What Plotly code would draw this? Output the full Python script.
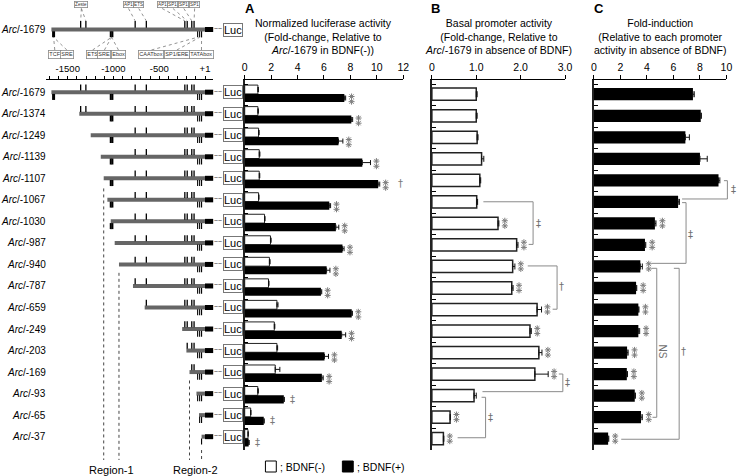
import plotly.graph_objects as go

# ---------------- data ----------------
constructs = [-1679, -1374, -1249, -1139, -1107, -1067, -1030, -987, -940,
              -787, -659, -249, -203, -169, -93, -65, -37]
a_bdnf_neg = [1.00, 1.00, 1.05, 1.10, 1.10, 1.05, 1.50, 1.95, 1.87, 1.80,
              2.44, 2.24, 2.44, 2.31, 0.99, 0.45, 0.25]
a_bdnf_neg_err = [0.03, 0.03, 0.04, 0.05, 0.04, 0.03, 0.04, 0.05, 0.05, 0.04,
                  0.08, 0.04, 0.05, 0.35, 0.04, 0.02, 0.02]
a_bdnf_pos = [7.54, 8.07, 7.10, 8.90, 10.10, 6.40, 6.90, 7.40, 6.20, 5.77,
              8.10, 7.34, 6.04, 5.84, 2.96, 1.44, 0.30]
a_bdnf_pos_err = [0.10, 0.10, 0.33, 0.62, 0.12, 0.10, 0.22, 0.12, 0.25, 0.06,
                  0.05, 0.30, 0.30, 0.10, 0.04, 0.04, 0.04]
b_basal = [1.00, 1.00, 1.02, 1.12, 1.08, 1.01, 1.49, 1.91, 1.82, 1.80,
           2.37, 2.21, 2.41, 2.32, 0.95, 0.41, 0.26]
b_basal_err = [0.02, 0.02, 0.02, 0.05, 0.02, 0.02, 0.02, 0.03, 0.05, 0.03,
               0.10, 0.03, 0.07, 0.30, 0.05, 0.01, 0.01]
c_fold = [7.47, 8.06, 6.90, 8.00, 9.40, 6.35, 4.60, 3.85, 3.50, 3.18,
          3.35, 3.35, 2.50, 2.48, 3.08, 3.55, 1.07]
c_fold_err = [0.10, 0.05, 0.30, 0.55, 0.10, 0.10, 0.08, 0.06, 0.15, 0.05,
              0.05, 0.10, 0.08, 0.05, 0.05, 0.10, 0.05]

a_sig = ["**"] * 14 + ["‡"] * 3
a_extra = {4: "†"}
b_sig = [""] * 6 + ["**"] * 8 + ["", "**", "**"]
c_sig = [""] * 6 + ["**"] * 11

a_ticks = [0, 2, 4, 6, 8, 10, 12]
b_ticks = [0, 1, 2, 3]
b_ticktext = ["0", "1.0", "2.0", "3.0"]
c_ticks = [0, 2, 4, 6, 8, 10]
legend_labels = ["; BDNF(-)", "; BDNF(+)"]

# promoter elements (bp)
upper_elements = [-1359, -1302, -763, -641, -220, -194, -144, -119]
lower_thick = [-1655]
lower_mid = [-1030, -1012]
lower_thin = [-80, -58, -37]
exon_end = 90
ruler_labels = {-1500: "-1500", -1000: "-1000", -500: "-500", 1: "+1"}

# header boxes: (text, centre bp, connected element bp list)
upper_boxes = [("Zeste", -1351, [-1359, -1302]), ("AP1", -836, [-763]),
               ("ETS", -724, [-641]), ("AP1", -468, [-220]),
               ("SP1", -350, [-194]), ("SP1", -231, [-144]),
               ("SP1", -113, [-119])]
lower_boxes = [("TCF", -1642, [-1655]), ("SRE", -1510, [-1655]),
               ("ETS", -1229, [-1021]), ("SRE", -1099, [-1021]),
               ("Ebox", -946, [-1021]), ("CAATbox", -585, [-80]),
               ("SP1/ERE", -307, [-58]), ("TATAbox", -38, [-37])]

# ---------------- geometry helpers (layout only) ----------------
FONT = "Liberation Sans, Arial, sans-serif"
SYMFONT = "DejaVu Sans, sans-serif"
W, H = 745, 476
ROW0, ROWH = 94.77, 21.53
BP0_PX, PX_PER_BP = 204.7, 0.0927
A_PX, B_PX, C_PX = 13.39, 45.0, 13.43    # pixels per data unit
STAR_GREY = "#7d7d7d"


def fx(px):
    return px / W


def fy(px):
    return 1 - px / H


def rv(px):
    return (px - ROW0) / ROWH


def bpv(px):
    return (px - BP0_PX) / PX_PER_BP


n = len(constructs)
rows = list(range(n))
ydom = [fy(450), fy(80)]
yrange = [rv(450), rv(80)]
band_ticks = [k - 0.5 for k in range(n + 1)]

fig = go.Figure()
ann = []
shapes = []

# ---------------- Panel A ----------------
fig.add_trace(go.Bar(
    y=rows, x=a_bdnf_neg, orientation="h", name=legend_labels[0],
    marker=dict(color="white", line=dict(color="#222", width=1)),
    width=0.41, offset=-0.45, showlegend=False,
    error_x=dict(type="data", array=a_bdnf_neg_err, arrayminus=[0] * n,
                 symmetric=False, color="#111", thickness=1, width=2.5),
    xaxis="x", yaxis="y", hoverinfo="skip"))
fig.add_trace(go.Bar(
    y=rows, x=a_bdnf_pos, orientation="h", name=legend_labels[1],
    marker=dict(color="black", line=dict(width=0)),
    width=0.38, offset=-0.04, showlegend=False,
    error_x=dict(type="data", array=a_bdnf_pos_err, arrayminus=[0] * n,
                 symmetric=False, color="#111", thickness=1, width=2.5),
    xaxis="x", yaxis="y", hoverinfo="skip"))

# ---------------- Panel B ----------------
fig.add_trace(go.Bar(
    y=rows, x=b_basal, orientation="h", showlegend=False,
    marker=dict(color="white", line=dict(color="#222", width=1.5)),
    width=0.57, offset=-0.31,
    error_x=dict(type="data", array=b_basal_err, arrayminus=[0] * n,
                 symmetric=False, color="#111", thickness=1, width=3),
    xaxis="x2", yaxis="y2", hoverinfo="skip"))

# ---------------- Panel C ----------------
fig.add_trace(go.Bar(
    y=rows, x=c_fold, orientation="h", showlegend=False,
    marker=dict(color="black", line=dict(width=0)),
    width=0.57, offset=-0.31,
    error_x=dict(type="data", array=c_fold_err, arrayminus=[0] * n,
                 symmetric=False, color="#111", thickness=1, width=3),
    xaxis="x3", yaxis="y3", hoverinfo="skip"))


def sym(xref, yref, x, y, text, xshift, size=10):
    ann.append(dict(xref=xref, yref=yref, x=x, y=y, text=text,
                    showarrow=False, xanchor="left", yanchor="middle",
                    xshift=xshift,
                    font=dict(family=SYMFONT, size=size, color="#7a7a7a")))


# stacked double-asterisk marks drawn as asterisk markers
def star_trace(vals, errs, sigs, ycen, px_per_unit, gap_px, xa, ya):
    sx, sy = [], []
    for k, (v, e, s) in enumerate(zip(vals, errs, sigs)):
        if s == "**":
            xx = v + e + gap_px / px_per_unit
            sx += [xx, xx]
            sy += [k + ycen - 0.12, k + ycen + 0.12]
    fig.add_trace(go.Scatter(
        x=sx, y=sy, mode="markers", xaxis=xa, yaxis=ya, cliponaxis=False,
        marker=dict(symbol="asterisk-open", size=5, color=STAR_GREY,
                    line=dict(color=STAR_GREY, width=1)),
        showlegend=False, hoverinfo="skip"))


star_trace(a_bdnf_pos, a_bdnf_pos_err, a_sig, 0.2, A_PX, 6, "x", "y")
star_trace(b_basal, b_basal_err, b_sig, -0.03, B_PX, 6, "x2", "y2")
star_trace(c_fold, c_fold_err, c_sig, -0.03, C_PX, 6.5, "x3", "y3")

for k in rows:
    xe = a_bdnf_pos[k] + a_bdnf_pos_err[k]
    if a_sig[k] != "**":
        sym("x", "y", xe, k + 0.15, a_sig[k], 4)
    if k in a_extra:
        sym("x", "y", xe, k + 0.12, a_extra[k], 16)

# brackets (B on wide overlay axis x6, C on x7)
b_brackets = [(4.97, 6.95, 1.16, 2.28, 2.18, "‡", 2.40, 5.96),
              (7.95, 9.96, 2.16, 2.82, 2.72, "†", 2.93, 8.92),
              (12.97, 13.79, 2.86, 2.95, 1.14, "‡", 3.06, 13.37),
              (14.05, 15.93, 1.12, 1.21, 0.58, "‡", 1.32, 14.98)]
c_brackets = [(3.99, 4.84, 9.81, 10.07, 6.65, "‡", 10.5, 4.42),
              (5.01, 7.83, 6.65, 6.95, 4.34, "‡", 7.25, 6.51),
              (8.06, 14.98, 4.34, 4.74, 4.42, "NS", 5.15, 11.93),
              (8.06, 16.00, 6.03, 6.43, 2.06, "†", 6.75, 11.93)]
for axx, axy, brs in (("x6", "y2", b_brackets), ("x7", "y3", c_brackets)):
    bx, by = [], []
    for y1, y2, xs, xv, xe, lab, lx, ly in brs:
        bx += [xs, xv, xv, xe, None]
        by += [y1, y1, y2, y2, None]
        if lab == "NS":
            ann.append(dict(xref=axx, yref=axy, x=lx, y=ly, text="NS",
                            showarrow=False, textangle=90,
                            font=dict(family=FONT, size=10, color="#707070")))
        else:
            ann.append(dict(xref=axx, yref=axy, x=lx, y=ly, text=lab,
                            showarrow=False,
                            font=dict(family=SYMFONT, size=10, color="#707070")))
    fig.add_trace(go.Scatter(x=bx, y=by, mode="lines", xaxis=axx, yaxis=axy,
                             line=dict(color="#8a8a8a", width=1),
                             showlegend=False, hoverinfo="skip"))

# ---------------- construct diagram ----------------
DY = -0.12
hdr_y = rv(29.5)
diag_rows = [hdr_y] + [k + DY for k in rows]
diag_starts = [constructs[0]] + constructs

px_, py_, ex_, ey_ = [], [], [], []
ux, uy, tx, ty, mx, my, thx, thy = [], [], [], [], [], [], [], []
for s, r in zip(diag_starts, diag_rows):
    px_ += [s, 0, None]
    py_ += [r, r, None]
    ex_ += [0, exon_end, None]
    ey_ += [r, r, None]
    up_len = 0.40 if r == hdr_y else 0.36
    for e in upper_elements:
        if e >= s:
            ux += [e, e, None]
            uy += [r - 0.08, r - up_len, None]
    for e in lower_thick:
        if e >= s:
            tx += [e, e, None]
            ty += [r + 0.08, r + 0.36, None]
    for e in lower_mid:
        if e >= s:
            mx += [e, e, None]
            my += [r + 0.08, r + 0.36, None]
    for e in lower_thin:
        if e >= s:
            thx += [e, e, None]
            thy += [r + 0.08, r + 0.36, None]

fig.add_trace(go.Scatter(x=px_, y=py_, mode="lines", xaxis="x4", yaxis="y4",
                         line=dict(color="#666666", width=4),
                         showlegend=False, hoverinfo="skip"))
fig.add_trace(go.Scatter(x=ex_, y=ey_, mode="lines", xaxis="x4", yaxis="y4",
                         line=dict(color="black", width=5),
                         showlegend=False, hoverinfo="skip"))
for xs, ys, wd in ((ux, uy, 1.3), (tx, ty, 3), (mx, my, 2), (thx, thy, 1.1)):
    fig.add_trace(go.Scatter(x=xs, y=ys, mode="lines", xaxis="x4", yaxis="y4",
                             line=dict(color="black", width=wd),
                             showlegend=False, hoverinfo="skip"))

# connectors from header boxes
cx, cy = [], []
up_box_y, lo_box_y = rv(4.5), rv(54)
for name, bx_, targets in upper_boxes:
    for t in targets:
        cx += [bx_, t, None]
        cy += [rv(8.5), hdr_y - 0.40, None]
for name, bx_, targets in lower_boxes:
    for t in targets:
        cx += [bx_, t, None]
        cy += [rv(50), hdr_y + 0.36, None]
fig.add_trace(go.Scatter(x=cx, y=cy, mode="lines", xaxis="x4", yaxis="y4",
                         line=dict(color="#777", width=0.8, dash="dot"),
                         showlegend=False, hoverinfo="skip"))
for name, bx_, _ in upper_boxes:
    ann.append(dict(xref="x4", yref="y4", x=bx_, y=up_box_y, text=name,
                    showarrow=False, bgcolor="white", bordercolor="#888",
                    borderwidth=0.8, borderpad=0.3,
                    font=dict(family=FONT, size=4.6, color="#333")))
for name, bx_, _ in lower_boxes:
    ann.append(dict(xref="x4", yref="y4", x=bx_, y=lo_box_y, text=name,
                    showarrow=False, bgcolor="white", bordercolor="#888",
                    borderwidth=0.8, borderpad=0.5,
                    font=dict(family=FONT, size=5.5, color="#333")))

# region dotted lines
reg_specs = [(constructs[4], 4 + 0.35), (constructs[8], 8 + 0.27),
             (constructs[13], 13 + 0.27), (constructs[16], 16 + 0.5)]
rx, ry = [], []
for xr, y0 in reg_specs:
    rx += [xr, xr, None]
    ry += [y0, rv(460), None]
fig.add_trace(go.Scatter(x=rx, y=ry, mode="lines", xaxis="x4", yaxis="y4",
                         line=dict(color="#444", width=1, dash="dot"),
                         showlegend=False, hoverinfo="skip"))
ann.append(dict(xref="x4", yref="y4", x=(constructs[4] + constructs[8]) / 2,
                y=rv(470), text="Region-1", showarrow=False,
                font=dict(family=FONT, size=11, color="black")))
ann.append(dict(xref="x4", yref="y4", x=(constructs[13] + constructs[16]) / 2,
                y=rv(470), text="Region-2", showarrow=False,
                font=dict(family=FONT, size=11, color="black")))

# labels, wave and Luc boxes
for s, r in zip(diag_starts, diag_rows):
    ann.append(dict(xref="x4", yref="y4", x=bpv(45.5), y=r,
                    text=f"<i>Arc</i>/{s}", showarrow=False, xanchor="right",
                    font=dict(family=FONT, size=10, color="black")))
    ann.append(dict(xref="x4", yref="y4", x=bpv(217.8), y=r, text="~~",
                    showarrow=False, yshift=1,
                    font=dict(family=FONT, size=7, color="#333")))
    ann.append(dict(xref="x4", yref="y4", x=bpv(232.7), y=r, text="Luc",
                    showarrow=False, bgcolor="white", bordercolor="#777",
                    borderwidth=1, borderpad=0,
                    font=dict(family=FONT, size=11, color="black")))

# ruler dummy trace
fig.add_trace(go.Scatter(x=[-800], y=[0], mode="markers", xaxis="x5",
                         yaxis="y4", marker=dict(opacity=0),
                         showlegend=False, hoverinfo="skip"))
ruler_vals = list(range(-1700, 0, 100)) + [1]
ruler_text = [ruler_labels.get(v, "") for v in ruler_vals]

# ---------------- legend (squares + labels) ----------------
for (x0, fill), lab in zip(((266, "white"), (344, "black")), legend_labels):
    shapes.append(dict(type="rect", xref="paper", yref="paper",
                       x0=fx(x0), x1=fx(x0 + 11), y0=fy(472), y1=fy(461),
                       fillcolor=fill, line=dict(color="black", width=1)))
    ann.append(dict(xref="paper", yref="paper", x=fx(x0 + 13), y=fy(466.5),
                    text=lab, showarrow=False, xanchor="left",
                    yanchor="middle",
                    font=dict(family=FONT, size=10.5, color="black")))

# ---------------- titles ----------------
titles = [("x", "Normalized luciferase activity<br>(Fold-change, Relative to<br><i>Arc</i>/-1679 in BDNF(-))", "A", 243),
          ("x2", "Basal promoter activity<br>(Fold-change, Relative to<br><i>Arc</i>/-1679 in absence of BDNF)", "B", 432),
          ("x3", "Fold-induction<br>(Relative to each promoter<br>activity in absence of BDNF)", "C", 597)]
for axr, txt, letter, lx in titles:
    ann.append(dict(xref=f"{axr} domain", yref="paper", x=0.5, y=fy(36.5),
                    text=txt, showarrow=False, yanchor="middle",
                    font=dict(family=FONT, size=10.5, color="black")))
    ann.append(dict(xref="paper", yref="paper", x=fx(lx), y=fy(8),
                    text=f"<b>{letter}</b>", showarrow=False, xanchor="left",
                    yanchor="middle",
                    font=dict(family=FONT, size=13, color="black")))

# ---------------- axes ----------------
common_x = dict(side="top", showline=True, linecolor="black", linewidth=1,
                ticks="outside", ticklen=4, tickcolor="black",
                tickfont=dict(family=FONT, size=10.5, color="black"),
                showgrid=False, zeroline=False, fixedrange=True)
common_y = dict(domain=ydom, range=yrange, tickvals=band_ticks,
                ticks="inside", ticklen=4, tickcolor="black",
                showticklabels=False, showline=True, linecolor="#222",
                linewidth=1.5, showgrid=False, zeroline=False, fixedrange=True)

fig.update_layout(
    width=W, height=H, margin=dict(l=0, r=0, t=0, b=0),
    paper_bgcolor="white", plot_bgcolor="rgba(0,0,0,0)",
    barmode="overlay", font=dict(family=FONT, color="black"),
    showlegend=False,
    xaxis=dict(domain=[fx(245), fx(405.7)], range=[0, 12], tickvals=a_ticks,
               anchor="y", **common_x),
    yaxis=dict(anchor="x", **common_y),
    xaxis2=dict(domain=[fx(434.7), fx(569.7)], range=[0, 3],
                tickvals=b_ticks, ticktext=b_ticktext, anchor="y2", **common_x),
    yaxis2=dict(anchor="x2", **common_y),
    xaxis3=dict(domain=[fx(599), fx(733.3)], range=[0, 10], tickvals=c_ticks,
                anchor="y3", **common_x),
    yaxis3=dict(anchor="x3", **common_y),
    xaxis4=dict(domain=[0, 1], range=[bpv(0), bpv(W)], visible=False,
                anchor="y4", fixedrange=True),
    yaxis4=dict(domain=[0, 1], range=[rv(H), rv(0)], visible=False,
                anchor="x4", fixedrange=True),
    xaxis5=dict(domain=[fx(44), fx(213)], range=[bpv(44), bpv(213)],
                anchor="free", position=fy(78.5), side="top", showline=True,
                linecolor="black", linewidth=1, ticks="outside", ticklen=3,
                tickcolor="black", tickvals=ruler_vals, ticktext=ruler_text,
                tickfont=dict(family=FONT, size=9.5, color="black"),
                showgrid=False, zeroline=False, fixedrange=True),
    xaxis6=dict(domain=[fx(434.7), fx(592)], range=[0, (592 - 434.7) / 45],
                visible=False, anchor="y2", fixedrange=True),
    xaxis7=dict(domain=[fx(599), fx(745)], range=[0, (745 - 599) / 13.43],
                visible=False, anchor="y3", fixedrange=True),
    annotations=ann,
    shapes=shapes,
)

fig.write_html("out.html", config={"displayModeBar": False},
               post_script="document.body.style.margin='0';"
                           "document.body.style.overflow='hidden';")
